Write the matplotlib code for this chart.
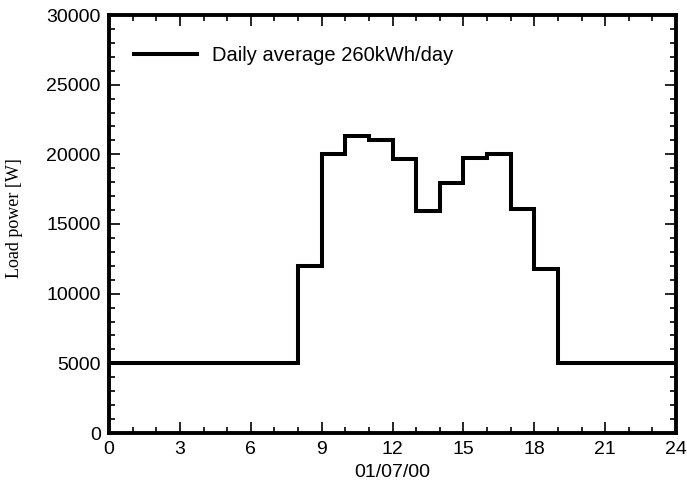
import numpy as np
import matplotlib
matplotlib.use("Agg")
import matplotlib.pyplot as plt
from matplotlib.ticker import MultipleLocator

# hourly load, W (hour start -> value)
hours = np.arange(0, 25)
load = [5000, 5000, 5000, 5000, 5000, 5000, 5000, 5000,
        12000, 20000, 21300, 21050, 19700, 15950, 17950, 19750,
        20000, 16100, 11750, 5000, 5000, 5000, 5000, 5000]
label = "Daily average 260kWh/day"

plt.rcParams['font.family'] = 'Liberation Sans'

fig = plt.figure(figsize=(6.87, 4.91), dpi=100)
L, R, T, B = 109, 676, 15, 433
ax = fig.add_axes([L/687, 1 - B/491, (R-L)/687, (B-T)/491])

ax.stairs(load, hours, color='black', linewidth=2.9, label=label, baseline=None)

ax.set_xlim(0, 24)
ax.set_ylim(0, 30000)
ax.xaxis.set_major_locator(MultipleLocator(3))
ax.xaxis.set_minor_locator(MultipleLocator(1))
ax.yaxis.set_major_locator(MultipleLocator(5000))
ax.yaxis.set_minor_locator(MultipleLocator(1000))
ax.tick_params(which='both', direction='in', top=True, right=True, labelsize=14)
ax.tick_params(which='major', length=8, width=1.2, pad=6)
ax.tick_params(which='minor', length=4, width=1.2)
for s in ax.spines.values():
    s.set_linewidth(2.8)

ax.set_xlabel("01/07/00", fontsize=14, labelpad=4)
ax.set_ylabel("Load power [W]", fontsize=13, family='Liberation Serif')
ax.yaxis.set_label_coords(-86/(R-L), 0.515)

ax.legend(loc='upper left', frameon=False, fontsize=14.5, handlelength=3.1,
          handletextpad=0.75, borderaxespad=0.3, bbox_to_anchor=(0.02, 0.96))

fig.savefig("out.png", dpi=100)
